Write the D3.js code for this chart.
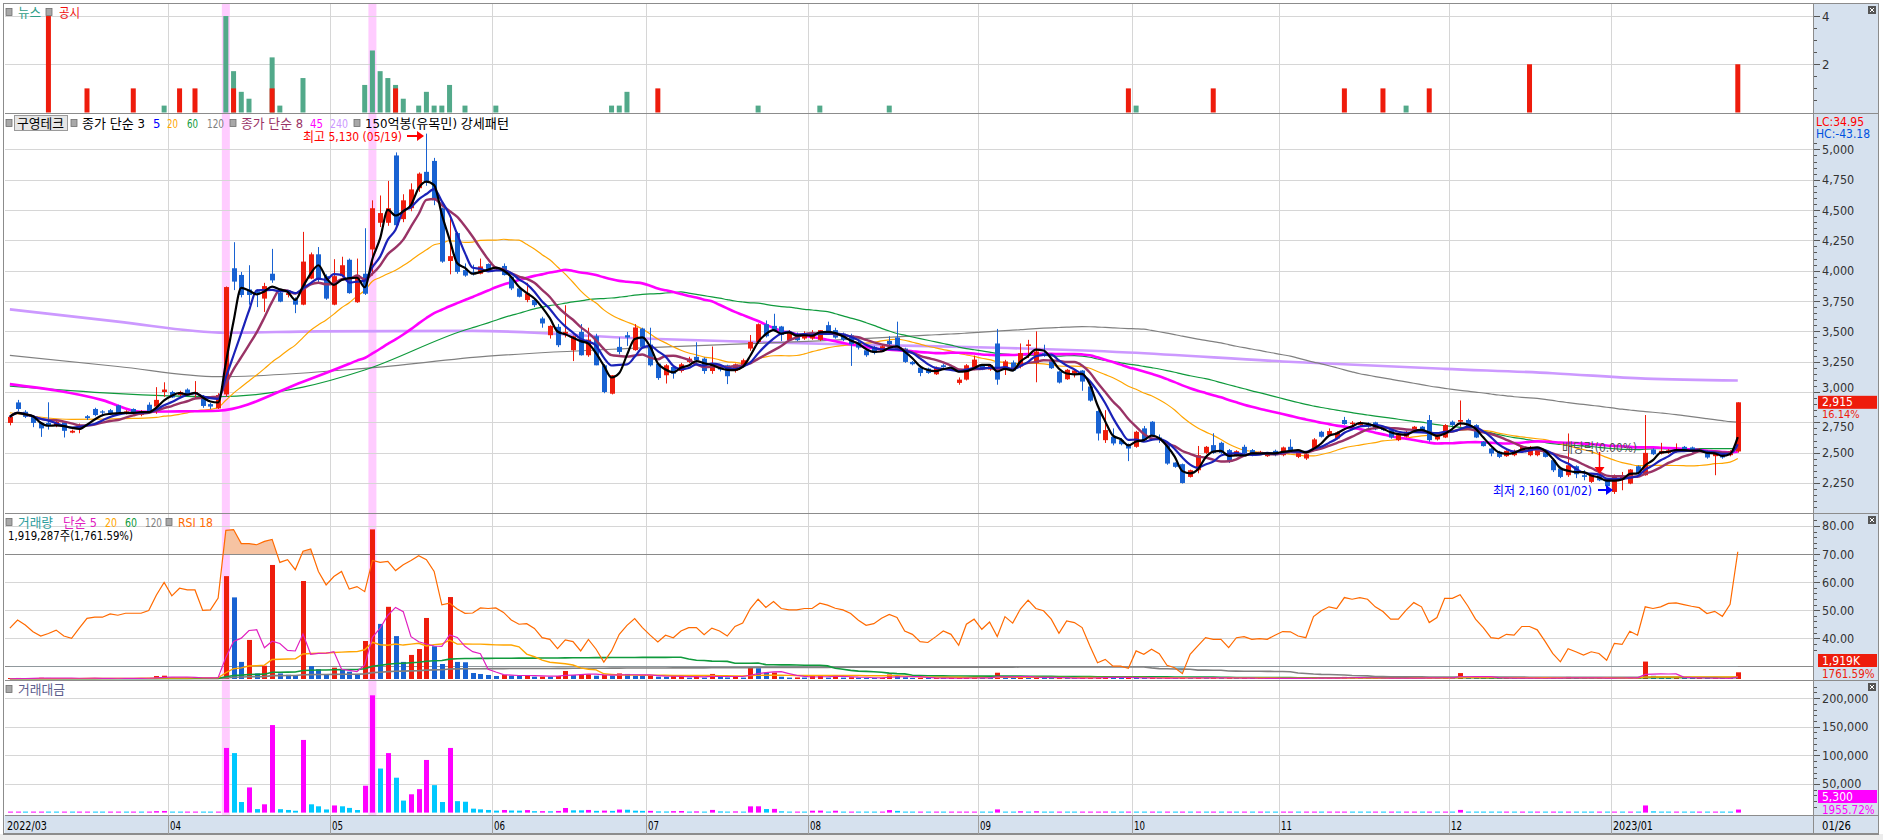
<!DOCTYPE html>
<html><head><meta charset="utf-8">
<script src="https://cdn.jsdelivr.net/npm/d3@7"></script>
<style>
html,body{margin:0;padding:0;background:#fff;overflow:hidden;}
svg{display:block;}
text{font-family:"Liberation Sans Narrow","DejaVu Sans Condensed","Noto Sans CJK KR",sans-serif;}
</style></head><body>
<svg id="c" width="1883" height="840"></svg>
<script>
// ---------- categories ----------
const monthLabels = ["2022/03","04","05","06","07","08","09","10","11","12","2023/01"];
const monthDays   = [21,21,21,20,21,22,20,19,22,21,17];
const lastDateLabel = "01/26";

// ---------- daily OHLC (won) ----------
const open = [2745,2914,2837,2800,2745,2745,2720,2750,2665,2700,2800,2860,2840,2850,2890,2825,2860,2810,2895,2880,3000,
3000,2975,3020,2985,2960,2900,2865,2980,4020,3965,3845,3830,3770,3975,3820,3800,3765,3720,3935,4135,3955,
3720,3955,4090,3740,3975,4175,4395,4395,4950,4425,4515,4680,4815,4905,4515,4080,4310,4005,3990,3975,4055,
4011,4039,3950,3854,3758,3758,3606,3468,3537,3480,3344,3495,3303,3460,3220,2986,3372,3468,3345,3523,
3391,3234,3138,3206,3173,3248,3290,3275,3173,3220,3220,3173,3220,3358,3413,3559,3545,3540,3427,3476,3441,
3441,3430,3551,3510,3482,3468,3413,3344,3372,3339,3421,3449,3358,3248,3201,3193,3146,3220,3210,3075,3102,3185,
3220,3185,3400,3183,3243,3210,3380,3238,3320,3252,3169,3105,3155,3177,3045,2843,2603,2631,2603,2570,
2548,2700,2755,2625,2562,2418,2405,2300,2355,2498,2562,2581,2521,2479,2548,2521,2487,2471,2515,
2479,2548,2465,2452,2534,2672,2645,2617,2769,2736,2727,2741,2750,2714,2686,2603,2631,2692,2714,2769,2609,2625,
2755,2755,2769,2727,2590,2534,2507,2471,2479,2507,2479,2479,2507,2438,2369,2314,2388,2314,2259,2314,2286,
2176,2278,2245,2388,2314,2526,2493,2498,2507,2548,2543,2512,2515,2471,2498,2479,2510];
const high = [2800,2935,2850,2810,2750,2915,2765,2760,2690,2740,2810,2870,2850,2860,2895,2850,2865,2850,2915,3040,3080,
3010,3010,3030,3090,2975,2910,2990,3870,4235,3990,4045,3845,3900,4180,3830,3830,3780,4320,4150,4195,3970,
4095,4115,4100,4100,4350,4580,4620,4740,4975,4630,4720,4810,5130,4930,4520,4450,4320,4060,4050,4100,4060,
4030,4060,3955,3860,3900,3770,3620,3550,3560,3715,3465,3560,3530,3480,3230,3140,3450,3495,3560,3530,
3530,3240,3230,3215,3240,3290,3410,3285,3375,3230,3225,3235,3275,3470,3565,3590,3645,3545,3510,3490,3500,
3510,3510,3580,3530,3490,3480,3420,3350,3380,3390,3460,3580,3365,3255,3220,3200,3210,3230,3220,3120,3230,3300,
3230,3230,3520,3265,3260,3400,3430,3500,3390,3260,3175,3190,3185,3180,3050,2850,2850,2700,2620,2575,
2680,2720,2760,2650,2570,2420,2410,2360,2555,2555,2660,2590,2530,2520,2565,2530,2515,2505,2525,
2550,2610,2505,2495,2620,2680,2700,2675,2795,2760,2760,2750,2755,2720,2690,2650,2680,2720,2720,2810,2645,2735,
2765,2930,2780,2735,2595,2540,2515,2520,2525,2555,2555,2540,2515,2445,2375,2658,2395,2355,2320,2320,2290,
2320,2341,2365,2395,2810,2535,2581,2530,2576,2555,2550,2535,2520,2505,2505,2520,2915];
const low = [2725,2840,2785,2710,2630,2690,2710,2625,2660,2660,2770,2800,2800,2810,2815,2815,2815,2800,2830,2820,2960,
2950,2965,2975,2945,2870,2860,2860,2960,3840,3780,3720,3700,3660,3900,3740,3780,3650,3715,3930,3900,3760,
3715,3945,3810,3735,3800,3960,4360,4370,4360,4400,4490,4650,4700,4540,4065,3970,3975,3950,3960,3970,4000,
4000,3960,3840,3780,3740,3700,3530,3440,3370,3450,3255,3300,3290,3220,2990,2980,3310,3380,3340,3365,
3210,3100,3070,3110,3160,3240,3240,3150,3150,3170,3065,3160,3210,3340,3400,3450,3500,3420,3420,3420,3430,
3430,3420,3490,3440,3420,3215,3350,3290,3310,3330,3380,3350,3240,3220,3130,3150,3140,3200,3185,3060,3095,3180,
3180,3175,3060,3140,3170,3195,3280,3080,3290,3190,3070,3100,3120,3010,2920,2600,2580,2560,2560,2430,
2540,2590,2640,2580,2400,2375,2245,2295,2330,2490,2490,2490,2415,2470,2485,2470,2480,2465,2470,
2470,2515,2455,2440,2530,2625,2640,2610,2730,2725,2720,2705,2685,2680,2615,2595,2625,2685,2670,2590,2600,2620,
2720,2714,2695,2620,2550,2470,2455,2465,2470,2500,2470,2470,2460,2340,2290,2300,2290,2272,2250,2265,2210,
2160,2190,2240,2320,2310,2480,2485,2490,2500,2505,2500,2505,2450,2314,2450,2470,2500];
const close = [2795,2860,2795,2745,2700,2720,2755,2680,2680,2725,2785,2810,2830,2820,2825,2840,2820,2840,2840,2935,3020,
2955,3000,2980,3000,2885,2880,2975,3865,3910,3800,3800,3815,3873,3920,3745,3815,3720,4075,4135,3925,3770,
3955,4045,3815,3965,3810,4515,4475,4515,4375,4580,4670,4800,4735,4580,4075,4120,3990,3960,3975,4035,4015,
4027,3964,3854,3785,3813,3716,3565,3545,3386,3495,3460,3303,3432,3220,3000,3138,3330,3449,3532,3372,
3220,3115,3220,3151,3228,3275,3262,3173,3234,3185,3130,3228,3262,3413,3559,3460,3510,3470,3495,3427,3482,
3482,3510,3496,3449,3432,3394,3366,3303,3322,3377,3394,3358,3248,3229,3157,3157,3201,3206,3193,3102,3220,3267,
3185,3220,3102,3252,3177,3321,3392,3334,3300,3196,3078,3183,3177,3086,2929,2658,2686,2576,2570,2534,
2672,2603,2645,2609,2410,2383,2250,2355,2479,2548,2498,2498,2424,2512,2493,2479,2507,2498,2479,
2543,2521,2498,2487,2609,2631,2678,2667,2736,2747,2750,2714,2692,2686,2625,2645,2672,2714,2678,2603,2636,2727,
2727,2769,2700,2625,2554,2493,2465,2515,2515,2548,2548,2534,2465,2355,2300,2396,2322,2300,2314,2272,2223,
2314,2300,2361,2328,2498,2487,2515,2520,2526,2515,2507,2526,2460,2498,2460,2510,2915];

// ---------- volume (million shares) ----------
const volume = [0.25,0.3,0.2,0.22,0.35,0.3,0.15,0.25,0.18,0.2,0.28,0.22,0.15,0.18,0.25,0.16,0.2,0.14,0.3,0.85,0.95,
0.4,0.3,0.35,0.45,0.3,0.25,0.5,29.5,23.4,4.9,11.2,1.6,3.8,32.7,1.6,1.2,0.86,28.1,3.7,2.8,1.43,
3.25,2.8,2.1,1.15,10.9,42.9,15.8,20.7,12.3,4.9,6.9,8.6,17.5,9.4,4.3,23.5,4.9,4.8,1.72,1.43,1.15,
0.86,1.15,0.95,0.9,1.15,0.67,0.7,0.65,0.86,2.3,1.15,1.2,1.35,0.95,1.15,0.95,1.6,1.45,0.95,0.9,
0.95,0.67,0.6,0.8,0.85,0.4,0.65,0.4,1.45,0.65,0.45,0.65,0.4,3.2,3.1,1.8,1.85,0.65,0.4,0.45,0.42,
0.95,1.0,0.4,0.95,0.4,0.5,0.35,0.3,0.25,0.3,1.3,0.9,0.5,0.3,0.35,0.2,0.25,0.15,0.2,0.3,0.35,0.4,
0.25,0.2,1.8,0.5,0.3,0.7,0.45,0.7,0.3,0.25,0.3,0.28,0.2,0.3,0.35,0.5,0.7,0.4,0.3,0.35,
0.3,0.25,0.3,0.2,0.3,0.25,0.35,0.3,0.4,0.3,0.35,0.25,0.3,0.2,0.25,0.15,0.2,0.18,0.15,
0.2,0.25,0.15,0.18,0.3,0.25,0.28,0.3,0.6,0.35,0.3,0.25,0.3,0.2,0.25,0.2,0.3,0.35,0.25,0.55,0.3,0.35,
0.3,1.7,0.6,0.4,0.35,0.3,0.25,0.28,0.2,0.25,0.2,0.22,0.18,0.3,0.25,0.6,0.3,0.25,0.2,0.25,0.2,
0.4,0.35,0.5,0.3,5.0,0.9,0.6,0.4,0.5,0.3,0.2,0.25,0.2,0.25,0.15,0.109,1.919];

// ---------- trading value (million won) ----------
const tradeValue = [700,860,560,610,950,820,410,670,480,540,780,620,420,510,710,450,560,400,850,2500,2870,
1190,900,1040,1350,870,720,1470,113000,104000,18500,44000,6100,14500,153000,6000,4600,3200,127000,14500,11000,5500,
12500,11000,8200,4500,47000,205000,77000,104000,61000,21000,32000,41000,92000,48000,18500,113000,20000,19000,6900,5700,4600,
3460,4560,3660,3410,4380,2490,2500,2300,2910,8040,3980,3960,4630,3060,3450,2980,5330,5000,3360,3030,
3060,2090,1930,2520,2740,1310,2120,1270,4690,2070,1410,2100,1300,10920,11030,6230,6500,2260,1400,1540,1460,
3300,3510,1400,3280,1370,1700,1180,990,830,1010,4410,3020,1620,970,1100,630,800,480,640,930,1130,1310,
800,640,5580,1630,950,2320,1530,2330,990,800,920,890,640,930,1030,1330,1880,1030,770,890,
800,650,790,520,720,600,790,710,990,760,870,620,730,500,620,370,500,450,370,
510,630,370,450,780,660,750,800,1640,960,830,680,810,540,660,530,800,950,670,1430,790,950,
820,4710,1620,1050,890,750,620,700,500,640,510,560,440,710,580,1440,700,580,460,570,450,
920,800,1180,700,12500,2240,1510,1010,1260,750,500,630,490,620,370,271,5300];

// ---------- RSI(18) ----------
const rsi = [43.6,46.5,44.7,42.3,40.8,41.7,42.9,40.8,40.0,43.6,47.1,47.5,47.5,48.7,48.2,48.9,48.9,48.9,49.9,55.4,59.9,
55.1,57.8,57.2,57.2,49.9,50.1,54.3,78.4,78.7,73.7,73.7,73.3,74.5,75.2,67.0,68.0,64.4,71.0,71.8,63.8,59.0,
62.0,63.8,57.5,58.4,56.6,67.7,67.0,67.4,64.1,66.2,67.7,69.4,68.0,63.8,51.9,52.5,50.4,48.9,49.0,50.8,50.6,
50.8,49.2,46.5,45.0,45.2,43.5,40.2,39.6,36.3,39.4,38.8,35.5,39.6,36.1,31.5,35.5,41.4,44.6,47.0,43.8,
41.1,38.7,41.1,40.2,42.6,43.8,43.8,41.3,43.6,42.6,40.8,44.2,45.4,50.6,53.9,51.0,53.1,50.6,50.1,50.1,50.6,
50.6,52.5,51.8,50.7,50.1,48.8,46.4,44.6,45.2,47.1,48.5,47.4,42.6,41.4,38.8,38.5,40.5,42.6,41.4,37.5,45.0,46.8,
43.2,45.8,40.6,47.7,45.4,50.4,53.6,50.6,49.8,46.8,41.8,46.2,45.6,43.8,37.3,31.3,32.5,30.1,30.1,29.3,
35.5,34.3,36.1,34.5,30.4,29.5,27.4,34.3,37.3,40.2,39.6,39.6,36.7,40.2,40.6,39.6,39.9,39.6,41.1,
42.4,42.3,40.8,40.2,47.7,49.8,51.2,50.6,54.5,53.9,54.5,53.9,51.2,49.5,46.8,46.8,50.0,52.7,51.2,45.6,47.4,54.2,
54.2,55.5,51.5,46.8,43.8,40.2,39.9,41.4,41.1,44.2,44.2,43.0,39.0,34.6,31.6,36.3,35.2,34.0,35.2,34.6,32.2,
38.2,37.8,42.5,41.1,51.2,50.6,51.2,52.4,52.6,52.0,51.4,50.9,48.8,49.6,47.8,52.1,70.8];

const ma20Early  = [[0,2829],[8,2774],[16,2782]];
const ma45Early  = [[0,3065],[12,2933],[17,2837],[22,2840],[27,2846],[38,3085]];
const ma60Early  = [[0,3049],[27,2961],[38,3040],[46,3181]];
const ma120Early = [[0,3302],[14,3210],[27,3126],[46,3195],[62,3295],[82,3364],[105,3421]];
const ma240Read  = [[0,3681],[14,3580],[28,3489],[40,3500],[60,3504],[82,3441],[95,3415],[110,3390],[128,3365],[145,3326],[165,3252],[186,3191],[200,3155],[212,3110],[224,3095]];

// ---------- news / disclosure counts per day index ----------
const newsIdx = [20,28,29,30,31,34,35,38,46,47,48,49,50,51,53,54,55,56,57,59,63,78,79,80,97,105,114,146,181];
const newsCnt = [1,14,6,3,2,8,1,5,4,9,6,5,4,2,1,3,1,1,4,1,1,1,1,3,1,1,1,1,1];
const discIdx = [5,10,16,22,24,29,34,50,84,145,156,173,178,184,197,224];
const discCnt = [4,1,1,1,1,1,1,1,1,1,1,1,1,1,2,2];

const highlightDays = [28,47];

// ================= drawing =================
const N = close.length, idx = d3.range(N);
const RED="#ee1c0c", BLUE="#1862d2", TEAL="#52a98a", GRID="#d6d6d6", BORDER="#8c8c8c", AXBG="#d6e1ee";
const svg = d3.select("#c");
const L=4.5, R=1813.5, AXR=1878.5;
const x  = d3.scaleLinear().domain([-0.5,233.36]).range([6,1810]);
const yN = d3.scaleLinear().domain([0,4.52]).range([112.5,3.5]);
const yP = d3.scaleLinear().domain([2000,5300]).range([513.3,113]);
const yR = d3.scaleLinear().domain([25.5,84.6]).range([679,513]);
const yV = d3.scaleLinear().domain([0,47.6]).range([679,513]);
const yT = d3.scaleLinear().domain([0,230000]).range([812.6,681]);
const monthStart = monthDays.reduce((a,d,k)=>{a.push(k?a[k-1]+monthDays[k-1]:0);return a;},[]);

const defs = svg.append("defs");
function clip(id,x0,y0,w,h){defs.append("clipPath").attr("id",id).append("rect").attr("x",x0).attr("y",y0).attr("width",w).attr("height",h);}
clip("cN",L,3.5,R-L,109.5); clip("cP",L,113.5,R-L,399); clip("cV",L,513.5,R-L,166); clip("cT",L,680.5,R-L,134);
clip("cAbove",L,513.5,R-L,yR(70)-513.5); clip("cBelow",L,yR(30),R-L,680-yR(30));

svg.append("rect").attr("width",1883).attr("height",840).attr("fill","#fff");
svg.append("rect").attr("x",R).attr("y",3.5).attr("width",AXR-R).attr("height",815-3.5).attr("fill",AXBG);
svg.append("rect").attr("x",L).attr("y",815).attr("width",AXR-L).attr("height",19).attr("fill",AXBG);
svg.append("rect").attr("x",0).attr("y",834).attr("width",1883).attr("height",6).attr("fill","#ececec");

// highlight bands
svg.selectAll(".hl").data(highlightDays).join("rect").attr("x",d=>x(d)-4).attr("y",3.5).attr("width",8).attr("height",811.5).attr("fill","#ffccff");

const grid = svg.append("g").attr("stroke",GRID).attr("stroke-width",1).attr("shape-rendering","crispEdges");
monthStart.slice(1).forEach(s=>{const gx=Math.round(x(s-0.5))+0.5; grid.append("line").attr("x1",gx).attr("x2",gx).attr("y1",3.5).attr("y2",815);});
function hline(y,col){svg.append("line").attr("x1",L).attr("x2",R).attr("y1",Math.round(y)+0.5).attr("y2",Math.round(y)+0.5).attr("stroke",col).attr("shape-rendering","crispEdges");}
[4,2].forEach(v=>hline(yN(v),GRID));
d3.range(2250,5001,250).forEach(v=>hline(yP(v),GRID));
[80,60,50,40].forEach(v=>hline(yR(v),GRID));
[50000,100000,150000,200000].forEach(v=>hline(yT(v),GRID));
[70,30].forEach(v=>hline(yR(v),"#8a8a8a"));

// ---- news panel ----
const gN = svg.append("g").attr("clip-path","url(#cN)");
gN.selectAll("rect.n").data(newsIdx).join("rect").attr("x",d=>x(d)-2.5).attr("width",5)
  .attr("y",(d,k)=>yN(newsCnt[k]*4/14)).attr("height",(d,k)=>yN(0)-yN(newsCnt[k]*4/14)).attr("fill",TEAL);
gN.selectAll("rect.d").data(discIdx).join("rect").attr("x",d=>x(d)-2.5).attr("width",5)
  .attr("y",(d,k)=>yN(discCnt[k])).attr("height",(d,k)=>yN(0)-yN(discCnt[k])).attr("fill",RED);

// ---- price panel ----
function smaPartial(arr,p,i){const s=Math.max(0,i-p+1);let t=0;for(let k=s;k<=i;k++)t+=arr[k];return t/(i-s+1);}
function smaFull(arr,p,i){let t=0;for(let k=i-p+1;k<=i;k++)t+=arr[k];return t/p;}
function maPts(p,early){const pts=early.filter(d=>d[0]<p-1).map(d=>[d[0],d[1]]);for(let i=p-1;i<N;i++)pts.push([i,smaFull(close,p,i)]);return pts;}
function shortMA(p){return idx.map(i=>[i,smaPartial(close,p,i)]);}
const line = d3.line().x(d=>x(d[0])).y(d=>yP(d[1])).curve(d3.curveMonotoneX);
const gP = svg.append("g").attr("clip-path","url(#cP)");
function drawMA(pts,col,w){gP.append("path").attr("d",line(pts)).attr("fill","none").attr("stroke",col).attr("stroke-width",w);}
drawMA(ma240Read,"#cc99ff",2.6);
drawMA(maPts(120,ma120Early),"#808080",1.2);
drawMA(maPts(60,ma60Early),"#0f9a3c",1.2);
drawMA(maPts(20,ma20Early),"#ffa500",1.2);
drawMA(maPts(45,ma45Early),"#ff00ff",2.6);
const cg = gP.selectAll("g.c").data(idx).join("g");
cg.append("line").attr("x1",i=>Math.round(x(i))+0.5).attr("x2",i=>Math.round(x(i))+0.5)
  .attr("y1",i=>yP(high[i])).attr("y2",i=>yP(low[i])).attr("stroke",i=>close[i]>=open[i]?RED:BLUE).attr("stroke-width",1);
cg.append("rect").attr("x",i=>Math.round(x(i))-2).attr("width",5)
  .attr("y",i=>yP(Math.max(open[i],close[i]))).attr("height",i=>Math.max(1.2,yP(Math.min(open[i],close[i]))-yP(Math.max(open[i],close[i]))))
  .attr("fill",i=>close[i]>=open[i]?RED:BLUE);
drawMA(shortMA(8),"#993366",2.4);
drawMA(shortMA(5),"#1a22b8",2.2);
drawMA(shortMA(3),"#000000",2.2);

// ---- volume / RSI panel ----
const gV = svg.append("g").attr("clip-path","url(#cV)");
const rsiArea = d3.area().x(i=>x(i)).y1(i=>yR(rsi[i]));
gV.append("path").attr("clip-path","url(#cAbove)").attr("d",rsiArea.y0(yR(70))(idx)).attr("fill","#f6c3a2");
gV.append("path").attr("clip-path","url(#cBelow)").attr("d",rsiArea.y0(yR(30))(idx)).attr("fill","#a9d9ee");
gV.selectAll("rect.v").data(idx).join("rect").attr("x",i=>Math.round(x(i))-2).attr("width",5)
  .attr("y",i=>Math.min(yV(volume[i]),678)).attr("height",i=>Math.max(1,679-yV(volume[i])))
  .attr("fill",i=>(i===0||volume[i]>volume[i-1])?RED:BLUE);
function volMA(p){return idx.map(i=>{let t=0;for(let k=Math.max(0,i-p+1);k<=i;k++)t+=volume[k];return [i,t/p];});}
const vline = d3.line().x(d=>x(d[0])).y(d=>yV(d[1]));
[[120,"#808080",1.6],[60,"#0f9a3c",1.6],[20,"#ffa500",1.4],[5,"#e020c0",1.2]].forEach(([p,c,w])=>{
  gV.append("path").attr("d",vline(volMA(p))).attr("fill","none").attr("stroke",c).attr("stroke-width",w);});
gV.append("path").attr("d",d3.line().x(i=>x(i)).y(i=>yR(rsi[i]))(idx)).attr("fill","none").attr("stroke","#ff6a00").attr("stroke-width",1.2);

// ---- trading value panel ----
const gT = svg.append("g").attr("clip-path","url(#cT)");
gT.selectAll("rect.t").data(idx).join("rect").attr("x",i=>Math.round(x(i))-2).attr("width",5)
  .attr("y",i=>Math.min(yT(tradeValue[i]),811.6)).attr("height",i=>Math.max(1,yT(0)-yT(tradeValue[i])))
  .attr("fill",i=>(i===0||tradeValue[i]>tradeValue[i-1])?"#ff00ff":"#00c8ff");

// ---- borders ----
const bd = svg.append("g").attr("stroke",BORDER).attr("fill","none").attr("shape-rendering","crispEdges");
[113,513,680,815].forEach(y=>bd.append("line").attr("x1",L).attr("x2",AXR).attr("y1",y+0.5).attr("y2",y+0.5).attr("stroke-width",1.5));
bd.append("line").attr("x1",R).attr("x2",R).attr("y1",3.5).attr("y2",834).attr("stroke-width",1.5);
bd.append("rect").attr("x",L-1).attr("y",3.5).attr("width",AXR-L+1).attr("height",830.5).attr("stroke-width",1.5);
monthStart.slice(1).forEach(s=>{const gx=Math.round(x(s-0.5))+0.5; bd.append("line").attr("x1",gx).attr("x2",gx).attr("y1",815).attr("y2",834).attr("stroke","#a0a0a0");});

// ---- helpers ----
function txt(str,x0,y0,col,o={}){const t=svg.append("text").attr("x",x0).attr("y",y0).attr("fill",col).attr("font-size",o.size||13)
  .attr("dominant-baseline","central").text(str); if(o.len)t.attr("textLength",o.len).attr("lengthAdjust","spacingAndGlyphs"); if(o.anchor)t.attr("text-anchor",o.anchor); return t;}
function marker(x0,y0){svg.append("rect").attr("x",x0-3).attr("y",y0-3.5).attr("width",6).attr("height",7).attr("fill","#a8a8a8").attr("stroke","#6e6e6e").attr("stroke-width",0.8);}

// ---- headers ----
marker(9,12); txt("뉴스",18,12,"#2f9d87",{len:23}); marker(49,12); txt("공시",59,12,"#ee1010",{len:21});
marker(9,123);
svg.append("rect").attr("x",14.5).attr("y",115.5).attr("width",53).attr("height",15).attr("fill","#e6e6e6").attr("stroke","#9a9a9a");
txt("구영테크",17,123,"#000",{len:47});
marker(74,123);
txt("종가 단순 3",82,123,"#000",{len:63}); txt("5",153,123,"#0000ff"); txt("20",167,123,"#ffa500",{len:11});
txt("60",187,123,"#0f9a3c",{len:11}); txt("120",207,123,"#808080",{len:17});
marker(233,123);
txt("종가 단순 8",241,123,"#993366",{len:62}); txt("45",310,123,"#ff00ff",{len:13}); txt("240",330,123,"#cc99ff",{len:18});
marker(357,123);
txt("150억봉(유목민) 강세패턴",365,123,"#000",{len:144});
txt("최고 5,130 (05/19)",303,136,"#ff0000",{len:99});
svg.append("line").attr("x1",407).attr("x2",418).attr("y1",136).attr("y2",136).attr("stroke","#ff0000").attr("stroke-width",2);
svg.append("path").attr("d","M417,131 L424,136 L417,141 Z").attr("fill","#ff0000");
txt("최저 2,160 (01/02)",1493,490,"#0000ff",{len:99});
svg.append("line").attr("x1",1598).attr("x2",1607).attr("y1",490).attr("y2",490).attr("stroke","#0000ff").attr("stroke-width",2);
svg.append("path").attr("d","M1606,485 L1613,490 L1606,495 Z").attr("fill","#0000ff");
txt("배당락(0.00%)",1562,447,"#505050",{len:75});
const ax206 = Math.round(x(206))+0.5;
svg.append("line").attr("x1",ax206).attr("x2",ax206).attr("y1",452).attr("y2",470).attr("stroke","#ff0000").attr("stroke-width",1.5);
svg.append("path").attr("d",`M${ax206-5},467 L${ax206+5},467 L${ax206},474 Z`).attr("fill","#ff0000");

marker(9,522); txt("거래량",18,522,"#2f9d9d",{len:35}); txt("단순 5",63,522,"#e020c0",{len:34});
txt("20",105,522,"#ffa500",{len:12}); txt("60",125,522,"#0f9a3c",{len:12}); txt("120",145,522,"#808080",{len:17});
marker(169,522); txt("RSI 18",178,522,"#ff6a00",{len:35});
txt("1,919,287주(1,761.59%)",8,535,"#000",{len:125});
marker(9,689); txt("거래대금",18,689,"#5c5c8c",{len:47});

// ---- x axis labels ----
monthLabels.forEach((m,k)=>{const gx=k?Math.round(x(monthStart[k]-0.5))+2:7; txt(m,gx,825,"#000",{len:m.length>2?40:11});});
txt(lastDateLabel,1822,825,"#000",{len:29});

// ---- right axes ----
const ax = svg.append("g").attr("stroke","#555").attr("shape-rendering","crispEdges");
function ticks(scale,majors,minors){minors.forEach(v=>{const y=Math.round(scale(v))+0.5;ax.append("line").attr("x1",R).attr("x2",R+3).attr("y1",y).attr("y2",y);});
  majors.forEach(v=>{const y=Math.round(scale(v))+0.5;ax.append("line").attr("x1",R).attr("x2",R+6).attr("y1",y).attr("y2",y);});}
ticks(yN,[4,2],d3.range(0.5,4.5,0.5));
ticks(yP,d3.range(2250,5001,250),d3.range(2050,5300,50).filter(v=>v>2000&&yP(v)>140));
ticks(yR,[80,70,60,50,40],d3.range(36,84,2));
ticks(yT,[50000,100000,150000,200000],d3.range(10000,221000,10000));
const fmt = d3.format(",");
[4,2].forEach(v=>txt(String(v),1822,yN(v),"#333"));
// price labels; the two nearest the current-price box are nudged clear of it, as in the reference
const priceLabelY = {3000: yP(3000)-4.5, 2750: yP(2750)+4};
d3.range(2250,5001,250).forEach(v=>txt(fmt(v),1822,priceLabelY[v]||yP(v),"#333",{size:12.5}));
[80,70,60,50,40].forEach(v=>txt(v.toFixed(2),1822,yR(v),"#333",{size:12.5}));
[200000,150000,100000,50000].forEach(v=>txt(fmt(v),1822,yT(v),"#333",{size:12.5}));
txt("LC:34.95",1816,121.5,"#ff0000",{size:12}); txt("HC:-43.18",1816,134,"#0050e0",{size:12});
// current value boxes
function box(y0,fill,label){svg.append("rect").attr("x",1818).attr("y",y0).attr("width",59).attr("height",13).attr("fill",fill);txt(label,1822,y0+6.5,"#fff",{size:12});}
box(yP(close[N-1])-6.5,RED,fmt(close[N-1]));
txt("16.14%",1822,yP(close[N-1])+12.5,RED,{size:11});
box(654,RED,"1,919K"); txt("1761.59%",1822,673.5,RED,{size:11.5});
box(790,"#ff00ff","5,300"); txt("1955.72%",1822,809.5,"#ff00ff",{size:11.5});
// close buttons
[[1868,6],[1868,516],[1868,683]].forEach(([bx,by])=>{svg.append("rect").attr("x",bx).attr("y",by).attr("width",8).attr("height",8).attr("fill","#555");
  svg.append("path").attr("d",`M${bx+2},${by+2}L${bx+6},${by+6}M${bx+6},${by+2}L${bx+2},${by+6}`).attr("stroke","#fff").attr("stroke-width",1);});
</script>
</body></html>
